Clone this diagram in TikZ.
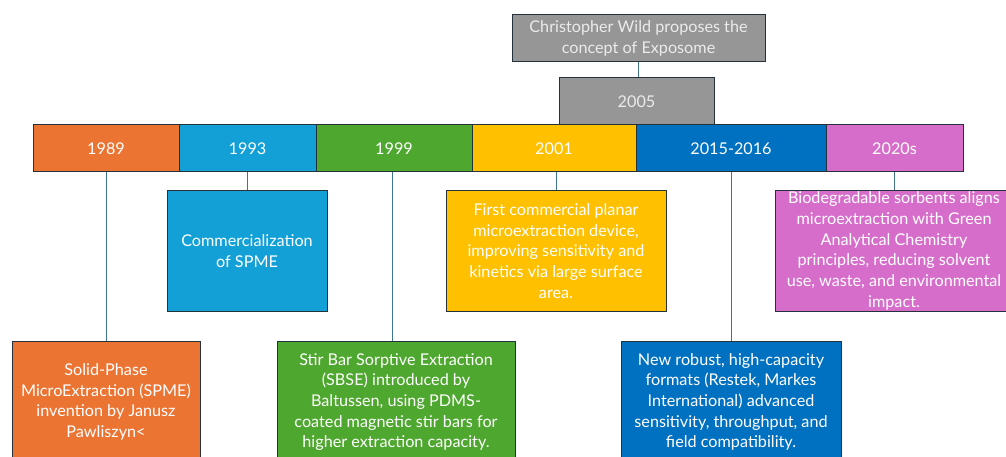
\documentclass[tikz,border=0pt]{standalone}
\usepackage{fontspec}
\setmainfont{Lato}
\definecolor{cgray}{HTML}{969696}
\definecolor{corange}{HTML}{EB7433}
\definecolor{caqua}{HTML}{12A0D6}
\definecolor{cgreen}{HTML}{4EA72E}
\definecolor{cyellow}{HTML}{FFC000}
\definecolor{cblue}{HTML}{0070C0}
\definecolor{cpink}{HTML}{D76DCB}
\definecolor{cborder}{HTML}{25323C}
\definecolor{cline}{HTML}{3F7593}
\begin{document}
\begin{tikzpicture}[x=1pt,y=-1pt,
  box/.style={draw=cborder, line width=1pt, rectangle, inner sep=0pt,
    text=white, align=center, font=\fontsize{16.2}{20.7}\selectfont},
  seg/.style={box, minimum height=47pt},
  conn/.style={draw=cline, line width=0.9pt}]
\useasboundingbox (0,0) rectangle (1006,457);
\begin{scope}
\clip (0,0) rectangle (1006,457);
% top
\node[box, fill=cgray, text=white!92!black, minimum width=253pt, minimum height=47pt] (wild) at (638.5,38.5) {Christopher Wild proposes the\\concept of Exposome};
\node[box, fill=cgray, text=white!92!black, minimum width=155pt, minimum height=47pt] (y2005) at (636.5,101.5) {2005};
% bar
\node[seg, fill=corange, minimum width=146pt] (s1989) at (106,148.5) {1989};
\node[seg, fill=caqua, minimum width=137pt] (s1993) at (247.5,148.5) {1993};
\node[seg, fill=cgreen, minimum width=156pt] (s1999) at (394,148.5) {1999};
\node[seg, fill=cyellow, minimum width=164pt] (s2001) at (554,148.5) {2001};
\node[seg, fill=cblue, minimum width=190pt] (s2015) at (731,148.5) {2015-2016};
\node[seg, fill=cpink, minimum width=137pt] (s2020) at (894.5,148.5) {2020s};
% upper boxes
\node[box, fill=caqua, minimum width=160pt, minimum height=120pt] (b1993) at (247,251) {Commercialization\\of SPME};
\node[box, fill=cyellow, minimum width=220pt, minimum height=120pt] (b2001) at (556,251) {First commercial planar\\microextraction device,\\improving sensitivity and\\kinetics via large surface\\area.};
\node[box, fill=cpink, minimum width=238pt, minimum height=120pt] (b2020) at (894,251) {Biodegradable sorbents aligns\\microextraction with Green\\Analytical Chemistry\\principles, reducing solvent\\use, waste, and environmental\\impact.};
% lower boxes
\node[box, fill=corange, minimum width=188pt, minimum height=122pt] (b1989) at (106,402) {Solid-Phase\\MicroExtraction (SPME)\\invention by Janusz\\Pawliszyn<};
\node[box, fill=cgreen, minimum width=238pt, minimum height=122pt] (b1999) at (396,402) {Stir Bar Sorptive Extraction\\(SBSE) introduced by\\Baltussen, using PDMS-\\coated magnetic stir bars for\\higher extraction capacity.};
\node[box, fill=cblue, minimum width=220pt, minimum height=122pt] (b2015) at (731,402) {New robust, high-capacity\\formats (Restek, Markes\\International) advanced\\sensitivity, throughput, and\\field compatibility.};
% connectors
\draw[conn] ([xshift=-0.5pt]wild.south) -- ([xshift=-0.5pt]wild.south |- y2005.north);
\draw[conn] (s1989.south) -- (s1989.south |- b1989.north);
\draw[conn] (s1993.south) -- (s1993.south |- b1993.north);
\draw[conn] ([xshift=-2pt]s1999.south) -- ([xshift=-2pt]s1999.south |- b1999.north);
\draw[conn] ([xshift=2pt]s2001.south) -- ([xshift=2pt]s2001.south |- b2001.north);
\draw[conn] (s2015.south) -- (s2015.south |- b2015.north);
\draw[conn] (s2020.south) -- (s2020.south |- b2020.north);
\end{scope}
\end{tikzpicture}
\end{document}
